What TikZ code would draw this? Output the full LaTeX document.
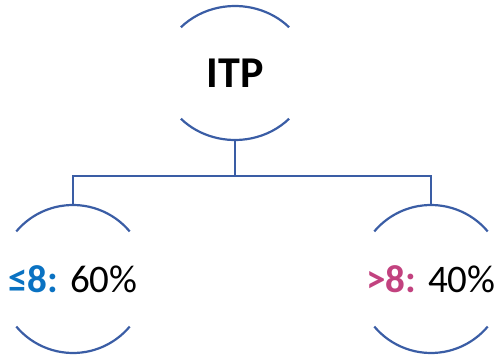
\documentclass[tikz,border=0pt]{standalone}
\usepackage{fontspec}
\setmainfont{Carlito}
\usetikzlibrary{shapes.geometric}
\definecolor{treeline}{HTML}{3A5DA5}
\definecolor{lowblue}{HTML}{0A72C2}
\definecolor{highpink}{HTML}{C2427F}

\tikzset{
  leaf/.style={circle, minimum size=148pt, inner sep=0pt, font=\fontsize{39}{46}\selectfont},
  branch/.style={treeline, line width=2.2pt}
}

\begin{document}
\begin{tikzpicture}[x=1pt, y=1pt]
            \useasboundingbox (0,0) rectangle (496,357);
            % Root and the two groups
            \node[ellipse, minimum width=148pt, minimum height=134pt, inner sep=0pt, font=\fontsize{44}{50}\selectfont\bfseries] (itp) at (235,284) {ITP};
            \node[leaf] (low) at (73,78) {\textcolor{lowblue}{\textbf{≤8:}} 60\%};
            \node[leaf] (high) at (431,78) {\textcolor{highpink}{\textbf{>8:}} 40\%};

            % Open arcs round each node
            \draw[branch] ([shift={(43:74 and 67)}]itp.center) arc[start angle=43, end angle=137, x radius=74, y radius=67];
            \draw[branch] ([shift={(223:74 and 67)}]itp.center) arc[start angle=223, end angle=317, x radius=74, y radius=67];
            \draw[branch] ([shift={(40:74)}]low.center) arc[start angle=40, end angle=140, radius=74];
            \draw[branch] ([shift={(220:74)}]low.center) arc[start angle=220, end angle=320, radius=74];
            \draw[branch] ([shift={(40:74)}]high.center) arc[start angle=40, end angle=140, radius=74];
            \draw[branch] ([shift={(220:74)}]high.center) arc[start angle=220, end angle=320, radius=74];

            % Tree connectors
            \coordinate (split) at (235,181);
            \draw[branch] (itp.south) -- (split) -| (low.north);
            \draw[branch] (split) -| (high.north);
        \end{tikzpicture}
\end{document}
